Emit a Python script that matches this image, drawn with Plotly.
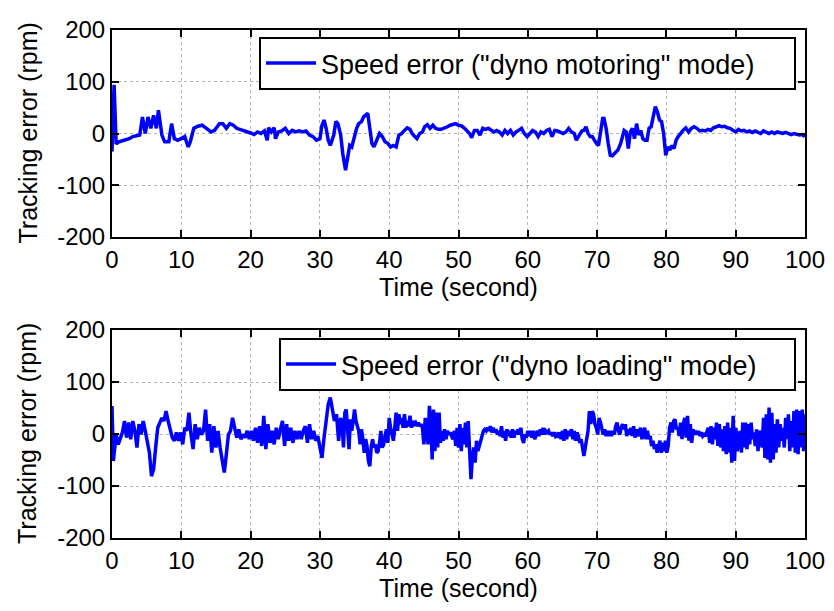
import numpy as np
import plotly.graph_objects as go

# ---- "dyno motoring" mode: (time [s], speed error [rpm]) ----
motor_t = [0, 0.3, 0.6, 1.0, 1.5, 2.0, 2.5, 3.0, 3.5, 4.0, 4.4, 4.8, 5.2, 5.6, 6.0, 6.4, 6.7, 7.2, 7.6, 8.2,
           8.6, 9.0, 9.5, 10.0, 10.5, 11.0, 11.3, 11.8, 12.4, 13.0, 13.6, 14.3, 14.8, 15.5, 16.0, 16.5, 17.0, 17.5, 18.0, 18.5,
           19.0, 19.5, 20.0, 20.5, 21.0, 21.5, 22.0, 22.4, 22.6, 23.0, 23.4, 23.6, 24.0, 24.5, 25.0, 25.5, 26.0, 26.5, 27.0, 27.5,
           28.0, 28.5, 29.0, 29.5, 30.0, 30.3, 30.6, 30.9, 31.2, 31.5, 32.0, 32.3, 32.6, 33.0, 33.3, 33.7, 34.0, 34.3, 34.6, 35.0,
           35.3, 35.6, 36.0, 36.3, 36.6, 36.9, 37.2, 37.5, 37.8, 38.2, 38.6, 39.0, 39.4, 39.8, 40.2, 40.6, 41.0, 41.4, 41.8, 42.2,
           42.6, 43.0, 43.3, 43.7, 44.0, 44.4, 44.8, 45.1, 45.5, 45.9, 46.3, 46.7, 47.1, 47.5, 48.0, 48.4, 48.8, 49.2, 49.6, 50.0,
           50.4, 50.8, 51.2, 51.6, 51.9, 52.3, 52.7, 53.1, 53.5, 53.9, 54.3, 54.7, 55.1, 55.5, 55.9, 56.3, 56.7, 57.1, 57.5, 57.9,
           58.3, 58.7, 59.1, 59.5, 59.9, 60.3, 60.7, 61.1, 61.5, 61.9, 62.3, 62.7, 63.1, 63.5, 63.9, 64.3, 64.7, 65.1, 65.5, 65.9,
           66.3, 66.7, 67.0, 67.5, 67.8, 68.1, 68.4, 68.7, 69.0, 69.3, 69.6, 69.9, 70.2, 70.5, 70.8, 71.0, 71.3, 71.6, 71.9, 72.2,
           72.6, 73.0, 73.4, 73.6, 73.9, 74.2, 74.5, 74.8, 75.1, 75.4, 75.7, 76.0, 76.3, 76.6, 76.9, 77.2, 77.5, 77.8, 78.1, 78.4,
           78.7, 79.0, 79.3, 79.6, 79.9, 80.2, 80.5, 80.8, 81.1, 81.4, 81.7, 82.0, 82.4, 82.8, 83.2, 83.6, 84.0, 84.4, 84.8, 85.2,
           85.6, 86.0, 86.4, 86.8, 87.2, 87.6, 88.0, 88.4, 88.8, 89.2, 89.6, 90.0, 90.4, 90.8, 91.2, 91.6, 92.0, 92.4, 92.8, 93.2,
           93.6, 94.0, 94.4, 94.8, 95.2, 95.6, 96.0, 96.4, 96.8, 97.2, 97.6, 98.0, 98.4, 98.8, 99.2, 99.6, 100.0]
motor_err = [-35, 94, -20, -16, -14, -12, -10, -6, -4, -3, 32, 0, 32, 10, 35, 10, 45, -3, -16, -16,
             19, -10, -13, -10, -6, -26, -16, 10, 14, 16, 10, 3, 6, 19, 19, 10, 19, 16, 10, 8,
             6, 3, 1, -2, 3, 0, 5, -13, 11, 3, 11, -10, 3, 5, 10, 0, 6, 3, 5, 3,
             5, -3, -6, -13, -10, 16, 26, 10, -13, -23, -3, 23, 19, -3, -39, -71, -42, -23, -26, -3,
             10, 19, 23, 32, 35, 39, 10, -19, -26, -13, 0, -6, -16, -19, -26, -23, -26, -3, 0, 6,
             11, 8, 0, -6, -10, 0, 3, 13, 17, 10, 16, 10, 8, 8, 10, 13, 16, 18, 19, 16,
             15, 11, 6, 0, -8, 6, 6, -3, 10, 8, 10, 6, 3, 6, 3, -3, 6, 0, 6, -3,
             3, 6, 10, 0, -6, 0, 6, 3, -6, 3, 0, 6, 8, -6, 6, 5, 3, 0, 3, 10,
             3, 0, -13, -3, 5, 6, 13, 0, -6, -6, -13, -19, -23, 6, 29, 29, 10, -19, -42, -43,
             -37, -32, -19, -10, 6, 3, -29, 3, 10, -10, 19, -3, 6, -10, -13, -13, 10, 13, 35, 52,
             42, 26, 23, 0, -42, -26, -32, -23, -29, -13, -6, 0, 6, 11, 3, 10, 13, 10, 5, 6,
             5, 8, 6, 11, 13, 15, 13, 14, 11, 10, 6, 3, 8, 5, 6, 3, 5, 2, 5, 2,
             0, 5, 2, 0, 3, 0, 3, 1, 0, 2, 0, -2, 0, -2, -3, -2, -6]

# ---- "dyno loading" mode, first stretch: (time [s], speed error [rpm]) ----
load_t_a = [0, 0.2, 0.4, 0.6, 0.9, 1.2, 1.5, 1.8, 2.1, 2.4, 2.7, 3.0, 3.3, 3.6, 3.9, 4.2, 4.5, 4.8, 5.1, 5.4,
            5.7, 6.0, 6.3, 6.6, 6.9, 7.2, 7.5, 7.8, 8.1, 8.4, 8.7, 9.0, 9.3, 9.6, 9.9, 10.2, 10.5, 10.8, 11.1, 11.4,
            11.7, 12.0, 12.3, 12.6, 12.9, 13.2, 13.5, 13.8, 14.1, 14.4, 14.7, 15.0, 15.3, 15.6, 15.9, 16.2, 16.5, 16.8, 17.1, 17.4,
            17.7, 18.0, 18.3, 18.6, 18.9, 19.2, 19.5, 19.8, 20.1, 20.4, 20.7, 21.0, 21.3, 21.6, 21.9, 22.2, 22.5, 22.8, 23.1, 23.4,
            23.7, 24.0, 24.3, 24.6, 24.9, 25.2, 25.5, 25.8, 26.1, 26.4, 26.7, 27.0, 27.3, 27.6, 27.9, 28.2, 28.5, 28.8, 29.1, 29.4,
            29.7, 30.0, 30.3, 30.6, 30.9, 31.2, 31.5, 31.8, 32.1, 32.4, 32.7, 33.0]
load_err_a = [54, -52, -26, -1, -20, -7, 3, 25, -7, 22, -10, 25, 6, -26, 19, -1, 25, 6, -20, -36,
              -81, -68, -26, 12, 22, 31, 25, 44, 25, 6, -7, -13, 3, -13, 3, -20, 12, 6, 41, -1,
              -29, 19, -10, 12, -1, 6, 47, -13, 19, -36, 15, -26, 6, -26, -49, -74, -39, -1, 6, 31,
              12, -7, 9, -10, -1, -7, 6, -10, 6, -13, 12, -17, 15, -23, 35, -29, 19, -17, 6, -20,
              12, -10, 9, 25, -23, 19, -13, 12, -17, 6, -10, 6, -10, 6, 15, -17, 19, -10, 6, -13,
              -4, -26, -46, -7, 31, 57, 70, 51, 25, 38, -13, 31]

# ---- "dyno loading" mode, 33.2 s to 66.2 s, sampled every 0.2 s ----
load_err_b = [19, -26, 41, 47, 6, -29, 28, 6, 25, 47, 25, 12, 6, -20, 9, -10, -36, -10, -23, -52,
              -62, -26, -10, -26, -20, -36, -33, -17, 6, -26, -20, -4, 9, -17, 31, 12, -1, -13, 12, 41,
              6, 38, 19, 31, 12, 38, 12, 25, 15, 35, 12, 25, 19, 22, 15, 22, 15, 19, 12, -20,
              31, -1, -20, 54, 25, -49, 47, -33, 41, -26, 41, -17, 6, -13, 9, -10, 6, -1, 3, -4,
              -10, 6, -23, 12, -26, 19, -33, 12, -20, 22, -26, 25, -52, -87, -46, -26, -55, -13, -33, -23,
              -10, -1, 6, 9, 6, 12, 6, 15, 3, 12, 3, 9, -1, 6, -4, 15, -7, 6, -13, 9,
              -4, 6, -7, 9, -7, 6, -1, 9, -1, 12, -10, -17, -1, -7, 6, -4, 6, -7, 6, -10,
              -1, 6, -4, 9, -1, 12, -1, 6, 3, 6, -1, 3, -4, 3, -4, -1, -7, 3, -10, 6,
              -13, 9, -10, 6, -4, 9]
load_span_b = (33.2, 66.2)

# ---- "dyno loading" mode, 66.3 s to 100 s, sampled every 0.2 s ----
load_err_c = [9, -10, 6, -13, 3, -4, -17, -10, -26, -42, -26, -7, 6, 44, 19, 44, 38, 19, 12, -1,
              31, 22, 6, -1, 9, -4, 6, -4, 6, -4, 6, -1, 15, 22, 6, -1, 12, 19, 9, 19,
              -4, 9, -1, 12, -4, 15, -7, 9, -4, 6, 12, -10, -1, 12, -10, 6, -10, -4, -23, -13,
              -29, -20, -36, -26, -13, -36, -17, -33, -13, -36, -23, 12, 22, 3, 25, 28, 9, 12, -4, 22,
              -10, 19, 31, -7, 35, -13, 19, -17, 9, -1, 6, -1, 6, -4, 3, -4, -1, -4, 3, 12,
              -17, 15, -20, 12, -10, 22, -23, 19, -26, 9, -33, 15, -39, 22, -36, 12, -55, 35, -52, 12,
              -33, -13, 6, -36, 22, -26, 22, -29, 19, -20, 22, -10, 3, -23, 9, -33, 6, -1, -26, 31,
              -46, 38, -49, 51, -55, 41, -49, 19, -36, 28, -26, 19, -13, 12, -26, 31, -10, 38, -33, 25,
              -26, 44, -36, 47, -39, 44, -26, 47, -33, 38]
load_span_c = (66.3, 100.0)

load_t = (load_t_a
          + list(np.linspace(*load_span_b, len(load_err_b)))
          + list(np.linspace(*load_span_c, len(load_err_c))))
load_err = load_err_a + load_err_b + load_err_c

x_ticks = list(range(0, 101, 10))
y_ticks = [-200, -100, 0, 100, 200]
y_tick_text = ["-200", "-100", "0", "100", "200"]

W, H = 834, 611
FONT = "Liberation Sans, Arial, Helvetica, sans-serif"
BLUE = "#0000FF"

fig = go.Figure()
fig.add_trace(go.Scatter(x=motor_t, y=motor_err, mode="lines",
                         line=dict(color=BLUE, width=3.5),
                         name='Speed error ("dyno motoring" mode)',
                         xaxis="x", yaxis="y", legend="legend"))
fig.add_trace(go.Scatter(x=load_t, y=load_err, mode="lines",
                         line=dict(color=BLUE, width=3.5),
                         name='Speed error ("dyno loading" mode)',
                         xaxis="x2", yaxis="y2", legend="legend2"))


def px_x(p):
    return p / W


def px_y(p):
    return 1 - p / H


axis_common = dict(
    showline=True, linecolor="black", linewidth=2, mirror="allticks",
    ticks="inside", ticklen=7, tickwidth=1.5, tickcolor="black",
    showgrid=True, gridcolor="#b4b4b4", gridwidth=1, griddash="dot",
    zeroline=False, automargin=False,
    tickfont=dict(family=FONT, size=24, color="black"),
)

xaxis = dict(axis_common, range=[0, 100], tickvals=x_ticks, domain=[px_x(112), px_x(805)],
             title=dict(text="Time (second)", font=dict(family=FONT, size=25, color="black"), standoff=0))
yaxis_kw = dict(axis_common, range=[-200, 200], tickvals=y_ticks, ticktext=y_tick_text)

legend_common = dict(
    bgcolor="white", bordercolor="black", borderwidth=2,
    font=dict(family=FONT, size=27, color="black"),
    orientation="h", xanchor="right", yanchor="top", itemwidth=50,
)

# rotated y-axis titles, one per panel
y_titles = [
    dict(text="Tracking error (rpm)", x=px_x(27), y=(px_y(237) + px_y(30)) / 2),
    dict(text="Tracking error (rpm)", x=px_x(27), y=(px_y(538) + px_y(330)) / 2),
]
annotations = [
    dict(a, xref="paper", yref="paper", textangle=-90, showarrow=False,
         xanchor="center", yanchor="middle",
         font=dict(family=FONT, size=25, color="black"))
    for a in y_titles
]

fig.update_layout(
    width=W, height=H,
    margin=dict(l=0, r=0, t=0, b=0),
    paper_bgcolor="white", plot_bgcolor="white",
    showlegend=True,
    xaxis=dict(xaxis, anchor="y"),
    yaxis=dict(yaxis_kw, domain=[px_y(237), px_y(30)], anchor="x"),
    xaxis2=dict(xaxis, anchor="y2"),
    yaxis2=dict(yaxis_kw, domain=[px_y(538), px_y(330)], anchor="x2"),
    legend=dict(legend_common, x=px_x(796), y=px_y(37), entrywidth=468),
    legend2=dict(legend_common, x=px_x(796), y=px_y(338), entrywidth=448),
    annotations=annotations,
)

fig.write_html("out.html")
